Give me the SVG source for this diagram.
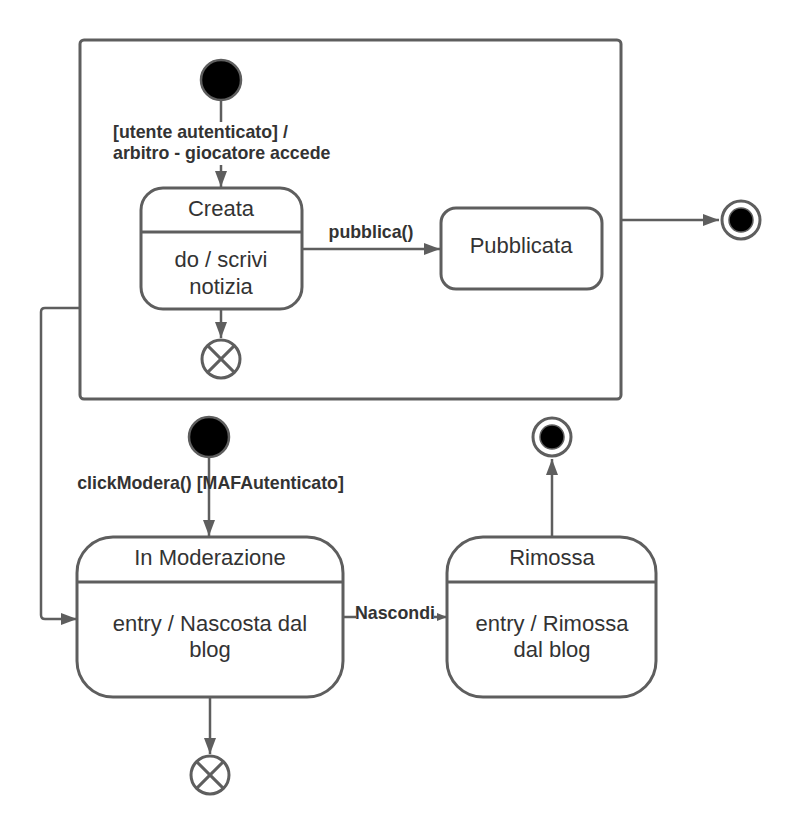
<svg xmlns="http://www.w3.org/2000/svg" width="801" height="838" viewBox="0 0 801 838">
  <style>
    .box { fill: #ffffff; stroke: #5e5e5e; stroke-width: 3; }
    .line { fill: none; stroke: #5e5e5e; stroke-width: 3; }
    .edge { fill: none; stroke: #5e5e5e; stroke-width: 2.5; }
    .name { font-family: "Liberation Sans", Arial, sans-serif; font-size: 22px; fill: #333333; text-anchor: middle; }
    .lbl { font-family: "Liberation Sans", Arial, sans-serif; font-size: 17.8px; font-weight: bold; fill: #333333; }
    .init { fill: #000000; stroke: #5e5e5e; stroke-width: 2.5; }
  </style>
  <defs>
    <marker id="arrow" viewBox="0 0 16 12" refX="16" refY="6" markerWidth="16" markerHeight="12" markerUnits="userSpaceOnUse" orient="auto">
      <path d="M0,0 L16,6 L0,12 Z" fill="#5e5e5e"/>
    </marker>
    <marker id="arrowSmall" viewBox="0 0 10 8" refX="10" refY="4" markerWidth="10" markerHeight="8" markerUnits="userSpaceOnUse" orient="auto">
      <path d="M0,0 L10,4 L0,8 Z" fill="#5e5e5e"/>
    </marker>
  </defs>

  <!-- composite state -->
  <g id="composite">
    <rect class="box" x="80" y="40" width="541" height="359" rx="4"/>
  </g>

  <!-- connectors -->
  <g id="connectors">
    <line class="edge" x1="221" y1="101" x2="221" y2="122"/>
    <line class="edge" x1="221" y1="165" x2="221" y2="187" marker-end="url(#arrow)"/>
    <line class="edge" x1="302" y1="249" x2="440" y2="249" marker-end="url(#arrow)"/>
    <line class="edge" x1="221" y1="309" x2="221" y2="338" marker-end="url(#arrow)"/>
    <line class="edge" x1="621" y1="220" x2="719" y2="220" marker-end="url(#arrow)"/>
    <path class="edge" d="M80,308 L45,308 Q41,308 41,312 L41,615 Q41,619 45,619 L77,619" marker-end="url(#arrow)"/>
    <line class="edge" x1="209" y1="458" x2="209" y2="536" marker-end="url(#arrow)"/>
    <line class="edge" x1="343" y1="617" x2="447" y2="617" marker-end="url(#arrowSmall)"/>
    <line class="edge" x1="552" y1="537" x2="552" y2="459" marker-end="url(#arrow)"/>
    <line class="edge" x1="210" y1="697" x2="210" y2="754" marker-end="url(#arrow)"/>
    <text class="lbl" x="113" y="138">[utente autenticato] /</text>
    <text class="lbl" x="113" y="159">arbitro - giocatore accede</text>
    <text class="lbl" x="371" y="238" text-anchor="middle">pubblica()</text>
    <text class="lbl" x="210.5" y="489" text-anchor="middle">clickModera() [MAFAutenticato]</text>
    <rect x="356" y="606" width="78" height="21" fill="#ffffff"/>
    <text class="lbl" x="395" y="619" text-anchor="middle">Nascondi</text>
  </g>

  <!-- initial state inside composite -->
  <g id="init1">
    <circle class="init" cx="221" cy="80" r="20"/>
  </g>

  <g id="creata">
    <rect class="box" x="141" y="188" width="161" height="121" rx="22"/>
    <line class="line" x1="141" y1="232" x2="302" y2="232"/>
    <text class="name" x="221" y="216">Creata</text>
    <text class="name" x="221" y="267">do / scrivi</text>
    <text class="name" x="221" y="294">notizia</text>
  </g>

  <g id="pubblicata">
    <rect class="box" x="441" y="208" width="161" height="81" rx="15"/>
    <text class="name" x="521" y="253">Pubblicata</text>
  </g>

  <g id="exit1">
    <circle class="box" cx="221" cy="359" r="19"/>
    <line class="line" x1="207.6" y1="345.6" x2="234.4" y2="372.4"/>
    <line class="line" x1="234.4" y1="345.6" x2="207.6" y2="372.4"/>
  </g>

  <g id="final1">
    <circle class="box" cx="741" cy="220" r="19"/>
    <circle cx="741" cy="220" r="12" fill="#000000" stroke="#5e5e5e" stroke-width="1.5"/>
  </g>

  <g id="init2">
    <circle class="init" cx="209" cy="437" r="20"/>
  </g>

  <g id="moderazione">
    <rect class="box" x="77" y="537" width="266" height="160" rx="36"/>
    <line class="line" x1="77" y1="582" x2="343" y2="582"/>
    <text class="name" x="210" y="565">In Moderazione</text>
    <text class="name" x="210" y="631">entry / Nascosta dal</text>
    <text class="name" x="210" y="657">blog</text>
  </g>

  <g id="rimossa">
    <rect class="box" x="447" y="537" width="209" height="160" rx="36"/>
    <line class="line" x1="447" y1="582" x2="656" y2="582"/>
    <text class="name" x="552" y="565">Rimossa</text>
    <text class="name" x="552" y="631">entry / Rimossa</text>
    <text class="name" x="552" y="657">dal blog</text>
  </g>

  <g id="final2">
    <circle class="box" cx="552" cy="437" r="19"/>
    <circle cx="552" cy="437" r="12" fill="#000000" stroke="#5e5e5e" stroke-width="1.5"/>
  </g>

  <g id="exit2">
    <circle class="box" cx="210" cy="775" r="19"/>
    <line class="line" x1="196.6" y1="761.6" x2="223.4" y2="788.4"/>
    <line class="line" x1="223.4" y1="761.6" x2="196.6" y2="788.4"/>
  </g>
</svg>
